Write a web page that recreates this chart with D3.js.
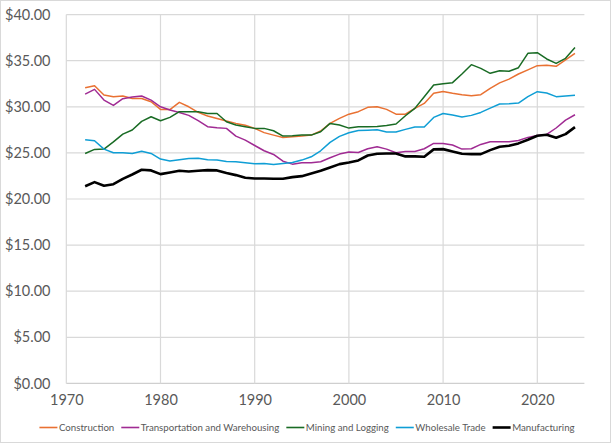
<!DOCTYPE html>
<html><head><meta charset="utf-8">
<script src="https://cdn.jsdelivr.net/npm/d3@7"></script>
<style>
html,body{margin:0;padding:0;background:#fff;}
svg{display:block;}
</style></head>
<body>
<svg id="chart" width="611" height="443"></svg>
<script>
const years = d3.range(1972, 2025);
const construction = [32.07,32.29,31.28,31.10,31.17,30.91,30.90,30.55,29.72,29.70,30.48,30.00,29.40,29.00,28.74,28.45,28.20,28.00,27.66,27.20,26.93,26.68,26.75,26.82,26.93,27.37,28.20,28.74,29.20,29.47,29.94,30.00,29.72,29.20,29.20,29.83,30.37,31.46,31.67,31.46,31.31,31.20,31.31,32.00,32.60,33.00,33.56,34.00,34.46,34.50,34.39,35.08,35.80];
const transportation = [31.38,31.89,30.73,30.15,30.88,31.06,31.17,30.73,30.00,29.65,29.39,29.07,28.49,27.84,27.73,27.66,26.82,26.39,25.80,25.23,24.83,24.10,23.78,23.93,23.93,24.04,24.47,24.87,25.09,25.05,25.45,25.67,25.41,25.01,25.16,25.16,25.45,26.03,26.03,25.85,25.41,25.45,25.92,26.20,26.20,26.20,26.35,26.68,26.90,27.00,27.70,28.56,29.14];
const mining = [24.94,25.38,25.41,26.20,27.04,27.48,28.42,28.92,28.49,28.85,29.47,29.47,29.47,29.28,29.28,28.38,28.02,27.84,27.66,27.66,27.40,26.82,26.86,26.93,26.93,27.29,28.20,28.02,27.69,27.84,27.84,27.87,27.98,28.13,29.03,29.83,31.10,32.36,32.51,32.62,33.56,34.57,34.17,33.63,33.92,33.85,34.24,35.80,35.87,35.19,34.71,35.26,36.42];
const wholesale = [26.43,26.32,25.41,25.01,25.01,24.94,25.19,24.94,24.33,24.11,24.25,24.40,24.43,24.25,24.22,24.07,24.04,23.93,23.82,23.86,23.75,23.86,23.96,24.22,24.58,25.23,26.14,26.79,27.19,27.44,27.47,27.51,27.26,27.26,27.55,27.80,27.80,28.85,29.28,29.10,28.89,29.07,29.39,29.86,30.30,30.33,30.41,31.10,31.64,31.49,31.10,31.17,31.24];
const manufacturing = [21.39,21.83,21.43,21.61,22.19,22.66,23.17,23.10,22.70,22.88,23.06,22.99,23.06,23.13,23.10,22.81,22.59,22.30,22.23,22.23,22.19,22.19,22.37,22.48,22.77,23.06,23.42,23.78,23.96,24.18,24.72,24.90,24.94,24.94,24.62,24.62,24.58,25.38,25.41,25.16,24.90,24.87,24.87,25.30,25.67,25.77,26.03,26.43,26.86,26.97,26.64,27.04,27.80];
const seriesNames = ["Construction","Transportation and Warehousing","Mining and Logging","Wholesale Trade","Manufacturing"];
const seriesColors = ["#E97132","#A02B93","#196B24","#0F9ED5","#000000"];
const seriesWidths = [1.5,1.5,1.5,1.5,2.6];
const xTicks = [1970,1980,1990,2000,2010,2020];
const yTicks = [0,5,10,15,20,25,30,35,40];

const seriesValues = [construction, transportation, mining, wholesale, manufacturing];
const svg = d3.select("#chart");
const W = 611, H = 443;
const font = "Lato, 'Liberation Sans', sans-serif";

svg.append("rect").attr("x",0.5).attr("y",0.5).attr("width",W-1).attr("height",H-1)
  .attr("fill","#fff").attr("stroke","#d9d9d9");

const x = d3.scaleLinear().domain([1970,2025]).range([66.3,584.4]);
const y = d3.scaleLinear().domain([0,40]).range([383.4,14.6]);

// horizontal gridlines
svg.append("g").selectAll("line").data(yTicks).join("line")
  .attr("x1",x(1970)).attr("x2",x(2025))
  .attr("y1",d=>y(d)).attr("y2",d=>y(d))
  .attr("stroke",d=> d===0 ? "#cfcfcf" : "#d9d9d9").attr("stroke-width",1.2);
// vertical gridlines
svg.append("g").selectAll("line").data(xTicks).join("line")
  .attr("x1",d=>x(d)).attr("x2",d=>x(d))
  .attr("y1",y(0)).attr("y2",y(40))
  .attr("stroke","#d9d9d9").attr("stroke-width",1.2);

// y axis labels
const yAxis = d3.axisLeft(y).tickValues(yTicks).tickSize(0).tickPadding(0)
  .tickFormat(d=>"$"+d3.format(".2f")(d));
const gy = svg.append("g").attr("transform",`translate(50.5,0)`).call(yAxis);
gy.select(".domain").remove();
gy.selectAll("text").attr("font-family",font).attr("font-size",14.5).attr("fill","#595959");

// x axis labels
const xAxis = d3.axisBottom(x).tickValues(xTicks).tickSize(0).tickPadding(0).tickFormat(d3.format("d"));
const gx = svg.append("g").attr("transform",`translate(0,${395})`).call(xAxis);
gx.select(".domain").remove();
gx.selectAll("text").attr("font-family",font).attr("font-size",14.5).attr("fill","#595959");

// lines
const line = d3.line().x((d,i)=>x(years[i])).y(d=>y(d));
seriesValues.forEach((vals,k)=>{
  svg.append("path").datum(vals).attr("d",line)
    .attr("fill","none").attr("stroke",seriesColors[k]).attr("stroke-width",seriesWidths[k])
    .attr("stroke-linejoin","round");
});

// legend
const lg = svg.append("g");
let cx = 0;
const ly = 427.5;
seriesNames.forEach((name,k)=>{
  const g = lg.append("g");
  g.append("line").attr("x1",cx).attr("x2",cx+18).attr("y1",ly).attr("y2",ly)
    .attr("stroke",seriesColors[k]).attr("stroke-width",k===4?2.6:1.6);
  const t = g.append("text").attr("x",cx+19.5).attr("y",ly).attr("dy","0.35em")
    .attr("font-family",font).attr("font-size",9.7).attr("fill","#595959").text(name);
  cx += 19.5 + t.node().getComputedTextLength() + 7;
});
const totalW = cx - 7;
lg.attr("transform",`translate(${307 - totalW/2},0)`);
</script>
</body></html>
